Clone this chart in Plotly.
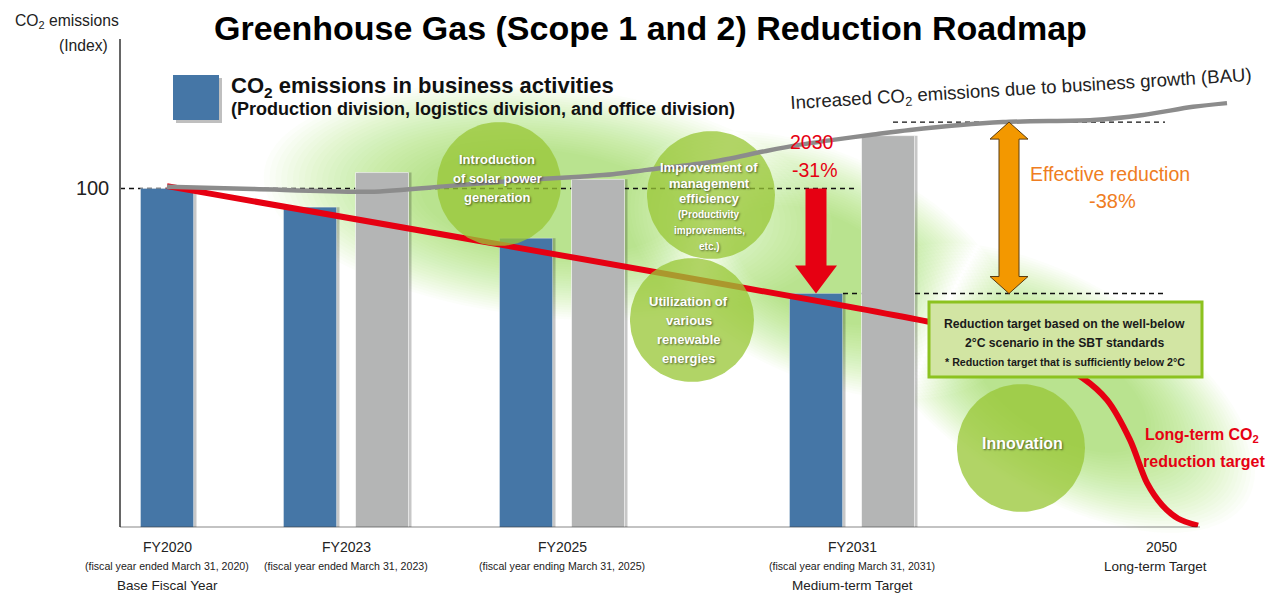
import numpy as np
import plotly.graph_objects as go

# ---------------- canvas / scale -----------------
W, H = 1268, 594
BASE_PX = 527.3          # pixel row of index 0
PX_PER_UNIT = 3.388      # pixels per index unit
Y_MAX = 144.0
AXIS_X = 120
FONT = "Liberation Sans, Arial, Helvetica, sans-serif"

# ---------------- data -----------------
categories = ["FY2020", "FY2023", "FY2025", "FY2031", "2050"]
period_notes = ["(fiscal year ended March 31, 2020)", "(fiscal year ended March 31, 2023)",
                "(fiscal year ending March 31, 2025)", "(fiscal year ending March 31, 2031)", ""]
milestone_notes = ["Base Fiscal Year", "", "", "Medium-term Target", "Long-term Target"]
category_pos = [167, 346, 562, 852, 1161]

actual_categories = ["FY2020", "FY2023", "FY2025", "FY2031"]
actual_values = [100, 94.5, 85.3, 69.0]            # CO2 emissions in business activities (index)
bau_categories = ["FY2023", "FY2025", "FY2031"]
bau_bar_values = [104.7, 102.7, 115.6]              # BAU emissions (index)

bau_line_pos = [167, 253, 370, 447, 513, 580, 613, 647, 713, 763, 797, 837, 870, 910,
                1003, 1093, 1143, 1193, 1227]
bau_line_values = [100.5, 99.85, 99.05, 100.7, 102.3, 103.5, 104.2, 105.5, 107.9, 110.9,
                   112.8, 114.5, 115.8, 117.3, 119.6, 120.2, 121.7, 124.1, 125.2]

target_line_pos = [167, 930, 1010, 1083, 1107, 1130, 1147, 1162, 1178, 1198]
target_line_values = [100.7, 60.6, 55.5, 44.0, 37.6, 25.8, 13.1, 6.6, 2.6, 0.5]

base_level = 100
bau_2031_level = 119.6
target_2031_level = 69.0

# ---------------- styles -----------------
BLUE = "#4576a6"
GRAY = "#b4b5b5"
RED = "#e60012"
ORANGE = "#f39800"
ORANGE_TXT = "#ef7d22"
GREEN = "rgba(152,198,54,0.76)"
BAR_W = 53
PAIR_OFF = 36


def xp(px):
    return px / W


def yp(py):
    return 1 - py / H


def val(py):
    return (BASE_PX - py) / PX_PER_UNIT


pos_of = dict(zip(categories, category_pos))
blue_x = [pos_of[c] - (PAIR_OFF if c in bau_categories else 0) for c in actual_categories]
gray_x = [pos_of[c] + PAIR_OFF for c in bau_categories]

fig = go.Figure()

# bar shadows
fig.add_trace(go.Bar(x=[x + 3 for x in blue_x + gray_x], y=actual_values + bau_bar_values,
                     width=BAR_W, marker=dict(color="rgba(0,0,0,0.22)", line=dict(width=0)),
                     hoverinfo="skip", showlegend=False))
fig.add_trace(go.Bar(x=blue_x, y=actual_values, width=BAR_W, name="CO2 emissions",
                     marker=dict(color=BLUE, line=dict(color="rgba(255,255,255,0.35)", width=1)),
                     showlegend=False))
fig.add_trace(go.Bar(x=gray_x, y=bau_bar_values, width=BAR_W, name="BAU",
                     marker=dict(color=GRAY, line=dict(color="rgba(255,255,255,0.6)", width=1)),
                     showlegend=False))

# red reduction path
fig.add_trace(go.Scatter(x=target_line_pos, y=target_line_values, mode="lines",
                         line=dict(color=RED, width=6, shape="spline", smoothing=0.9),
                         hoverinfo="skip", showlegend=False))

# green measure circles (decorations)
circles = [
    dict(cx=499, cy=184, r=62, tx=497,
         lines=[("Introduction", 13, 159), ("of solar power", 13, 178), ("generation", 13, 197)]),
    dict(cx=711, cy=195, r=64, tx=709,
         lines=[("Improvement of", 13, 167), ("management", 13, 183), ("efficiency", 13, 199),
                ("(Productivity", 10, 214), ("improvements,", 10, 230), ("etc.)", 10, 246)]),
    dict(cx=692, cy=320, r=62, tx=689,
         lines=[("Utilization of", 13, 301), ("various", 13, 320), ("renewable", 13, 339),
                ("energies", 13, 358)]),
    dict(cx=1021, cy=448, r=64, tx=1022, lines=[("Innovation", 16, 443)]),
]
t = np.linspace(0, 2 * np.pi, 120)
for c in circles:
    fig.add_trace(go.Scatter(x=c["cx"] + c["r"] * np.cos(t),
                             y=val(c["cy"] + c["r"] * np.sin(t)),
                             mode="lines", fill="toself", fillcolor=GREEN,
                             line=dict(width=0), hoverinfo="skip", showlegend=False))

# BAU line
fig.add_trace(go.Scatter(x=bau_line_pos, y=bau_line_values, mode="lines",
                         line=dict(color="#8c8c8c", width=4.5, shape="spline", smoothing=0.8),
                         hoverinfo="skip", showlegend=False))

shapes = []
# soft green haze (layered ellipses)
haze = [(548, 202, 255, 103, 6), (820, 265, 185, 100, 25), (1060, 388, 195, 95, 31)]
tt = np.linspace(0, 2 * np.pi, 90)
n_layers = 28
for k in range(n_layers):
    s = 1.12 - k * (0.62 / (n_layers - 1))
    path = ""
    for cx, cy, a, b, ang in haze:
        th = np.radians(ang)
        ex = a * s * np.cos(tt)
        ey = b * s * np.sin(tt)
        px_ = cx + ex * np.cos(th) - ey * np.sin(th)
        py_ = cy + ex * np.sin(th) + ey * np.cos(th)
        pts = [f"{xp(u):.5f},{yp(v):.5f}" for u, v in zip(px_, py_)]
        path += "M " + " L ".join(pts) + " Z "
    shapes.append(dict(type="path", path=path, xref="paper", yref="paper",
                       fillcolor="rgba(145,198,55,0.025)", line=dict(width=0), layer="below"))

# dashed reference levels
dash = "5px,4px"
shapes.append(dict(type="line", xref="x", yref="y", x0=AXIS_X, x1=858, y0=base_level, y1=base_level,
                   line=dict(color="#111", width=1.4, dash=dash), layer="below"))
shapes.append(dict(type="line", xref="x", yref="y", x0=893, x1=1165, y0=bau_2031_level, y1=bau_2031_level,
                   line=dict(color="#111", width=1.4, dash=dash), layer="below"))
shapes.append(dict(type="line", xref="x", yref="y", x0=843, x1=1165, y0=target_2031_level,
                   y1=target_2031_level, line=dict(color="#111", width=1.4, dash=dash), layer="below"))
# baseline
shapes.append(dict(type="line", xref="x", yref="y", x0=AXIS_X, x1=1200, y0=0, y1=0,
                   line=dict(color="#111", width=1.3), layer="above"))

# red arrow (2030 -31%)
ax_ = pos_of["FY2031"] - PAIR_OFF
sw, hw, hl = 10.5, 21, 28 / PX_PER_UNIT
p = [(ax_ - sw, base_level), (ax_ + sw, base_level), (ax_ + sw, target_2031_level + hl),
     (ax_ + hw, target_2031_level + hl), (ax_, target_2031_level), (ax_ - hw, target_2031_level + hl),
     (ax_ - sw, target_2031_level + hl)]
shapes.append(dict(type="path", xref="x", yref="y",
                   path="M " + " L ".join(f"{a},{b}" for a, b in p) + " Z",
                   fillcolor=RED, line=dict(width=0), layer="above"))

# orange double arrow (effective reduction)
ox = 1009
sw, hw, hl = 10, 19, 17 / PX_PER_UNIT
lo, hi = target_2031_level, bau_2031_level
p = [(ox, hi), (ox + hw, hi - hl), (ox + sw, hi - hl), (ox + sw, lo + hl), (ox + hw, lo + hl),
     (ox, lo), (ox - hw, lo + hl), (ox - sw, lo + hl), (ox - sw, hi - hl), (ox - hw, hi - hl)]
shapes.append(dict(type="path", xref="x", yref="y",
                   path="M " + " L ".join(f"{a},{b}" for a, b in p) + " Z",
                   fillcolor=ORANGE, line=dict(color="#5a3c10", width=1), layer="above"))

# SBT box
shapes.append(dict(type="rect", xref="paper", yref="paper", x0=xp(929), x1=xp(1202), y0=yp(377), y1=yp(302),
                   fillcolor="#d2e5a3", line=dict(color="#8cc21f", width=3), layer="above"))

# legend swatch
shapes.append(dict(type="rect", xref="paper", yref="paper", x0=xp(176), x1=xp(222), y0=yp(123), y1=yp(78),
                   fillcolor="rgba(0,0,0,0.25)", line=dict(width=0), layer="above"))
shapes.append(dict(type="rect", xref="paper", yref="paper", x0=xp(173), x1=xp(219), y0=yp(120), y1=yp(75),
                   fillcolor=BLUE, line=dict(width=0), layer="above"))

ann = []


def A(text, x, y, size, color="#1a1a1a", xanchor="center", family=FONT, shadow=None, angle=0):
    f = dict(family=family, size=size, color=color)
    if shadow:
        f["shadow"] = shadow
    ann.append(dict(text=text, x=xp(x), y=yp(y), xref="paper", yref="paper", showarrow=False,
                    xanchor=xanchor, yanchor="middle", font=f, textangle=angle))


A("<b>Greenhouse Gas (Scope 1 and 2) Reduction Roadmap</b>", 650, 28, 34, "#000")
A("CO<sub>2</sub> emissions", 121, 22, 15.7, "#222", xanchor="right")
A("(Index)", 110, 46, 15.7, "#222", xanchor="right")

A("<b>CO<sub>2</sub> emissions in business activities</b>", 229, 87, 22, "#111", xanchor="left")
A("<b>(Production division, logistics division, and office division)</b>", 229, 109, 18, "#111",
  xanchor="left")

A("Increased CO<sub>2</sub> emissions due to business growth (BAU)", 1021, 90, 18.6, "#222", angle=-3.5)

A("2030", 812, 142, 19.5, RED)
A("-31%", 815, 170, 19.5, RED)
A("Effective reduction", 1110, 174, 19.5, ORANGE_TXT)
A("-38%", 1112, 201, 20, ORANGE_TXT)

A("<b>Reduction target based on the well-below</b>", 1064, 324, 12.2, "#1a1a1a")
A("<b>2°C scenario in the SBT standards</b>", 1064, 343, 12.2, "#1a1a1a")
A("<b>* Reduction target that is sufficiently below 2°C</b>", 1065, 362, 10.7, "#1a1a1a")

A("<b>Long-term CO<sub>2</sub></b>", 1143, 435, 16, RED, xanchor="left")
A("<b>reduction target</b>", 1141, 461, 16, RED, xanchor="left")

for c in circles:
    for txt, sz, yy in c["lines"]:
        A(f"<b>{txt}</b>", c["tx"], yy, sz, "#ffffff", shadow="1px 1px 2px rgba(0,0,0,0.55)")

for cat, px_, pn, mn in zip(categories, category_pos, period_notes, milestone_notes):
    A(cat, px_, 547, 14, "#222")
    if pn:
        A(pn, px_, 566, 10.6, "#222")
        if mn:
            A(mn, px_, 585, 13.5, "#222")
    elif mn:
        A(mn, px_ - 6, 566, 13.5, "#222")

fig.update_layout(
    width=W, height=H, margin=dict(l=0, r=0, t=0, b=0),
    paper_bgcolor="white", plot_bgcolor="rgba(0,0,0,0)",
    barmode="overlay", showlegend=False,
    xaxis=dict(range=[0, W], domain=[0, 1], visible=False, fixedrange=True),
    yaxis=dict(range=[0, Y_MAX], domain=[1 - BASE_PX / H, 1 - (BASE_PX - Y_MAX * PX_PER_UNIT) / H],
               anchor="free", position=AXIS_X / W, showline=True, linecolor="#666", linewidth=1.5,
               ticks="", tickvals=[base_level], ticktext=["100"], ticklabelstandoff=6,
               tickfont=dict(family=FONT, size=20, color="#222"), showgrid=False, zeroline=False,
               fixedrange=True),
    shapes=shapes, annotations=ann, font=dict(family=FONT),
)

fig.write_html("out.html", config={"displayModeBar": False},
               post_script="document.body.style.margin='0';")
